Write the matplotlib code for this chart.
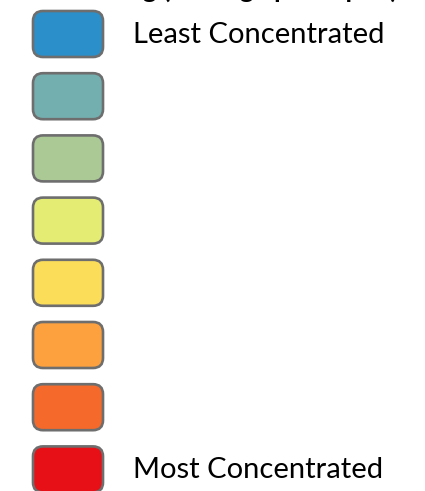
import matplotlib
matplotlib.use("Agg")
import matplotlib.pyplot as plt
from matplotlib.patches import FancyBboxPatch

# legend classes, least to most concentrated
colors = ["#2B8FC9", "#74AFAF", "#ABC995", "#E5EC73",
          "#FCDD5A", "#FDA13E", "#F56A2A", "#E81017"]
labels = ["Least Concentrated", "", "", "", "", "", "", "Most Concentrated"]
title = "Ranking (Average per capita)"

plt.rcParams['font.family'] = ['Lato', 'DejaVu Sans']

fig = plt.figure(figsize=(4.25, 4.91), dpi=100)
ax = fig.add_axes([0, 0, 1, 1])
ax.set_xlim(0, 425)
ax.set_ylim(491, 0)
ax.axis("off")

for i, (c, lab) in enumerate(zip(colors, labels)):
    top = 10 + 62.2 * i
    box = FancyBboxPatch((33, top + 1), 70, 46,
                         boxstyle="round,pad=0,rounding_size=10",
                         facecolor=c, edgecolor="#6E6E6E", linewidth=1.9)
    ax.add_patch(box)
    if lab:
        ax.text(133, top + 25, lab, fontsize=21, va="center", ha="left",
                color="black")

# title sits mostly above the visible area, only descenders show
ax.text(62, -2, title, fontsize=19, fontweight="bold", ha="left",
        va="baseline", color="black", clip_on=False)

fig.savefig("out.png", dpi=100)
